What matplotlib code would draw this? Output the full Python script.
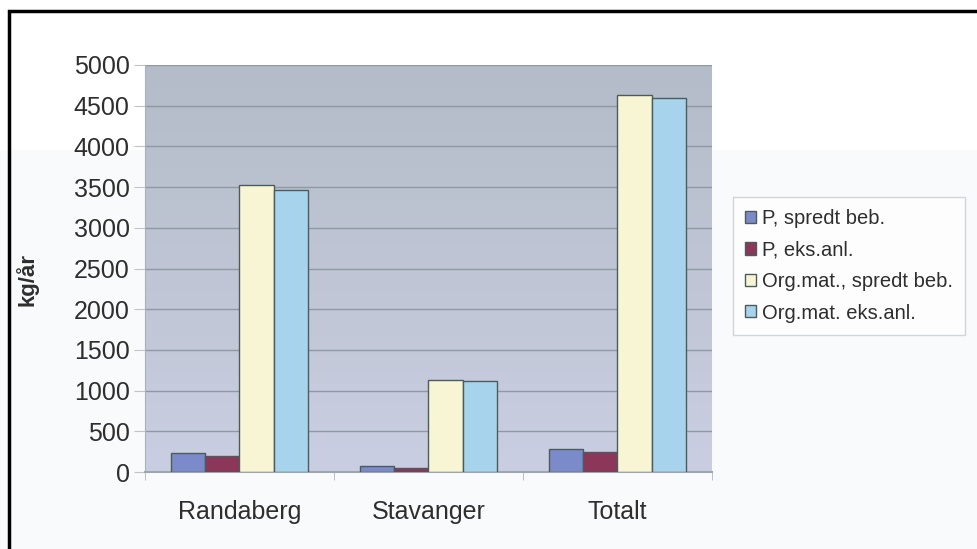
import matplotlib.pyplot as plt
import numpy as np
from matplotlib.patches import Rectangle
from matplotlib.colors import LinearSegmentedColormap

plt.rcParams['font.family'] = ['Liberation Sans', 'DejaVu Sans']

kommuner = ['Randaberg', 'Stavanger', 'Totalt']
serier = ['P, spredt beb.', 'P, eks.anl.', 'Org.mat., spredt beb.', 'Org.mat. eks.anl.']
p_spredt = [230, 70, 280]
p_eks = [200, 50, 250]
org_spredt = [3520, 1130, 4630]
org_eks = [3470, 1120, 4600]
yticks = [0, 500, 1000, 1500, 2000, 2500, 3000, 3500, 4000, 4500, 5000]

farger = ['#7b8bc9', '#8c3659', '#f8f5d5', '#a7d3ec']
kant = '#4c5c5c'
tekst = '#2e2e2e'

fig = plt.figure(figsize=(9.78, 5.49), dpi=100)

# faint grey wash on the lower part of the page
fig.patches.append(Rectangle((0, 0), 1, 1 - 150 / 549, transform=fig.transFigure,
                             facecolor='#f9fafb', edgecolor='none', zorder=-2))
# black frame round the figure
fig.patches.append(Rectangle((9 / 978, -0.1), 1.2, 1.1 - 11 / 549, transform=fig.transFigure,
                             facecolor='none', edgecolor='black', linewidth=2.5, zorder=5))

ax = fig.add_axes([145 / 978, 1 - 472 / 549, 567 / 978, 407 / 549])
ax.set_facecolor('none')

# plot area gradient: grey-blue at the top, lavender at the bottom
grad = np.linspace(0, 1, 256).reshape(-1, 1)
cmap = LinearSegmentedColormap.from_list('bg', ['#b3bcc8', '#bfc5d4', '#cacee2'])
ax.imshow(grad, cmap=cmap, aspect='auto', extent=[0, 1, 0, 1],
          transform=ax.transAxes, zorder=0)

x = np.arange(len(kommuner))
bredde = 0.18
verdier = [p_spredt, p_eks, org_spredt, org_eks]
for i, (navn, v) in enumerate(zip(serier, verdier)):
    ax.bar(x + (i - 1.5) * bredde, v, bredde, color=farger[i], edgecolor=kant,
           linewidth=1.0, label=navn, zorder=3)

ax.set_xlim(-0.5, 2.5)
ax.set_ylim(0, 5000)
ax.set_yticks(yticks)
ax.yaxis.grid(True, color='#8f99a4', linewidth=1.0, zorder=1)
ax.set_axisbelow(True)

ax.set_xticks(x)
ax.set_xticklabels(kommuner, fontsize=18, color=tekst)
ax.set_xticks([-0.5, 0.5, 1.5, 2.5], minor=True)
ax.tick_params(axis='x', which='major', length=0, pad=20)
ax.tick_params(axis='x', which='minor', length=6, color='#b0b6bc')
ax.tick_params(axis='y', length=8, color='#c0c4c8', labelsize=18, labelcolor=tekst, pad=3)

for side in ['top', 'right']:
    ax.spines[side].set_visible(False)
ax.spines['left'].set_color('#a9b1bc')
ax.spines['bottom'].set_color('#9ea6ae')
ax.spines['bottom'].set_linewidth(1.5)

fig.text(27 / 978, 1 - 280 / 549, 'kg/år', rotation=90, fontsize=16, fontweight='bold',
         color=tekst, ha='center', va='center')

leg = fig.legend(loc='upper left', bbox_to_anchor=(733 / 978, 1 - 197 / 549),
                 fontsize=14.5, frameon=True, fancybox=False, handlelength=0.55,
                 handleheight=0.55, handletextpad=0.3, labelspacing=0.62,
                 borderpad=0.6, borderaxespad=0, labelcolor=tekst)
leg.get_frame().set_edgecolor('#c8ccd0')
leg.get_frame().set_linewidth(1.0)

fig.savefig('out.png', dpi=100)
